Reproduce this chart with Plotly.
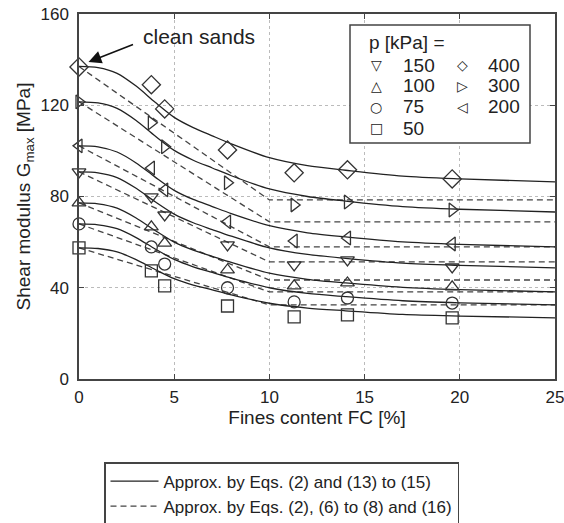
import plotly.graph_objects as go

# ---------------- data ----------------
symbols = {"400": "diamond-open", "300": "triangle-right-open", "200": "triangle-left-open",
           "150": "triangle-down-open", "100": "triangle-up-open", "75": "circle-open",
           "50": "square-open"}

fc_meas = [0, 3.8, 4.5, 7.8, 11.3, 14.1, 19.6]
g_meas_400 = [136.8, 129.0, 118.4, 100.4, 90.4, 91.7, 87.7]
g_meas_300 = [121.5, 112.3, 101.8, 86.0, 76.3, 77.6, 74.1]
g_meas_200 = [102.2, 92.5, 82.9, 68.9, 60.5, 61.8, 59.2]
g_meas_150 = [90.8, 79.8, 71.9, 58.8, 50.0, 52.2, 49.1]
g_meas_100 = [77.2, 66.7, 59.6, 47.8, 40.8, 42.1, 40.4]
g_meas_75 = [68.0, 57.9, 50.4, 40.0, 33.8, 35.5, 33.3]
g_meas_50 = [57.5, 47.4, 40.8, 32.0, 27.2, 28.1, 26.8]

fc_solid = [0, 1, 2, 3, 4, 5, 6, 7, 8, 10, 12, 14, 17, 20, 25]
g_solid_400 = [137.0, 136.5, 134.0, 128.4, 121.3, 114.7, 110.2, 106.6, 103.1, 97.0, 93.5, 91.5, 88.9, 87.7, 86.4]
g_solid_300 = [121.5, 121.0, 118.6, 113.3, 106.5, 100.2, 95.9, 92.5, 89.1, 83.3, 80.0, 78.0, 75.6, 74.4, 73.2]
g_solid_200 = [102.2, 101.8, 99.5, 94.7, 88.5, 82.7, 78.7, 75.6, 72.5, 67.2, 64.1, 62.3, 60.1, 59.0, 57.9]
g_solid_150 = [90.8, 90.4, 88.3, 83.6, 77.7, 72.3, 68.5, 65.5, 62.6, 57.5, 54.6, 52.9, 50.8, 49.8, 48.7]
g_solid_100 = [77.2, 76.8, 74.9, 70.6, 65.1, 60.0, 56.5, 53.8, 51.1, 46.4, 43.7, 42.1, 40.2, 39.2, 38.2]
g_solid_75 = [68.0, 67.6, 65.9, 62.0, 57.0, 52.4, 49.2, 46.7, 44.2, 40.0, 37.5, 36.1, 34.3, 33.4, 32.5]
g_solid_50 = [57.5, 57.2, 55.7, 52.3, 48.0, 44.0, 41.2, 39.1, 36.9, 33.2, 31.1, 29.9, 28.3, 27.6, 26.8]

fc_dash = [0, 10, 25]
g_dash_400 = [137.0, 78.5, 78.5]
g_dash_300 = [121.5, 68.9, 68.9]
g_dash_200 = [102.2, 57.9, 57.9]
g_dash_150 = [90.8, 51.3, 51.3]
g_dash_100 = [77.2, 43.4, 43.4]
g_dash_75 = [68.0, 38.2, 38.2]
g_dash_50 = [57.5, 32.5, 32.5]

x_ticks = [0, 5, 10, 15, 20, 25]
y_ticks = [0, 40, 80, 120, 160]

meas = {"400": g_meas_400, "300": g_meas_300, "200": g_meas_200, "150": g_meas_150,
        "100": g_meas_100, "75": g_meas_75, "50": g_meas_50}
solid = {"400": g_solid_400, "300": g_solid_300, "200": g_solid_200, "150": g_solid_150,
         "100": g_solid_100, "75": g_solid_75, "50": g_solid_50}
dash = {"400": g_dash_400, "300": g_dash_300, "200": g_dash_200, "150": g_dash_150,
        "100": g_dash_100, "75": g_dash_75, "50": g_dash_50}

order = ["400", "300", "200", "150", "100", "75", "50"]
LBL_SOLID = "Approx. by Eqs. (2) and (13) to (15)"
LBL_DASH = "Approx. by Eqs. (2), (6) to (8) and (16)"
FONT = "Liberation Sans, Arial, Helvetica, sans-serif"
INK = "#222222"

fig = go.Figure()
for i, p in enumerate(order):
    fig.add_trace(go.Scatter(x=fc_dash, y=dash[p], mode="lines",
                             line=dict(color="#444444", width=1.3, dash="6px,4px"),
                             name=LBL_DASH, legendgroup="d", showlegend=(i == 0),
                             legendrank=2))
for i, p in enumerate(order):
    fig.add_trace(go.Scatter(x=fc_solid, y=solid[p], mode="lines",
                             line=dict(color=INK, width=1.3, shape="spline", smoothing=0.8),
                             name=LBL_SOLID, legendgroup="s", showlegend=(i == 0),
                             legendrank=1))
for p in order:
    fig.add_trace(go.Scatter(x=fc_meas, y=meas[p], mode="markers",
                             marker=dict(symbol=symbols[p], size=12 if p != "400" else 14,
                                         color="#333333", line=dict(width=1.3, color="#333333")),
                             cliponaxis=False, showlegend=False, name=p + " kPa"))

axis_common = dict(showline=True, linecolor="#444444", linewidth=1.5, mirror="ticks",
                   ticks="inside", ticklen=5, tickcolor="#444444", showgrid=True,
                   gridcolor="#bbbbbb", griddash="dot", gridwidth=1, zeroline=False,
                   automargin=False, ticklabeloverflow="allow",
                   tickfont=dict(family=FONT, size=17, color=INK))

fig.update_xaxes(range=[0, 25], tickvals=x_ticks, ticklabelstandoff=2,
                 title=dict(text="Fines content FC [%]", standoff=4,
                            font=dict(family=FONT, size=19, color=INK)),
                 **axis_common)
fig.update_yaxes(range=[0, 160], tickvals=y_ticks, ticklabelstandoff=5,
                 title=dict(text="Shear modulus G<sub>max</sub> [MPa]", standoff=5,
                            font=dict(family=FONT, size=19, color=INK)),
                 **axis_common)

# inner marker legend box
L, R, T, B = 79, 555, 14, 379
def px(xp):
    return (xp - L) / (R - L)
def py(yp):
    return (B - yp) / (B - T)

shapes = [dict(type="rect", xref="paper", yref="paper", x0=px(350), x1=px(530),
               y0=py(143), y1=py(25), line=dict(color="#444444", width=1.5),
               fillcolor="white", layer="above")]
ann = [dict(text="p [kPa] =", xref="paper", yref="paper", x=px(367), y=py(42),
            xanchor="left", yanchor="middle", showarrow=False,
            font=dict(family=FONT, size=19, color=INK))]
glyph = {"150": "\u25BD", "100": "\u25B3", "75": "\u25CB", "50": "\u25A1",
         "400": "\u25C7", "300": "\u25B7", "200": "\u25C1"}
rows = [65, 86, 107, 128]
col1 = ["150", "100", "75", "50"]
col2 = ["400", "300", "200"]
for r, p in enumerate(col1):
    ann.append(dict(text=glyph[p], xref="paper", yref="paper", x=px(376), y=py(rows[r]),
                    xanchor="center", yanchor="middle", showarrow=False,
                    font=dict(family="DejaVu Sans", size=14, color=INK)))
    ann.append(dict(text=p, xref="paper", yref="paper", x=px(401), y=py(rows[r]),
                    xanchor="left", yanchor="middle", showarrow=False,
                    font=dict(family=FONT, size=19, color=INK)))
for r, p in enumerate(col2):
    ann.append(dict(text=glyph[p], xref="paper", yref="paper", x=px(462), y=py(rows[r]),
                    xanchor="center", yanchor="middle", showarrow=False,
                    font=dict(family="DejaVu Sans", size=14, color=INK)))
    ann.append(dict(text=p, xref="paper", yref="paper", x=px(486), y=py(rows[r]),
                    xanchor="left", yanchor="middle", showarrow=False,
                    font=dict(family=FONT, size=19, color=INK)))

# clean sands annotation
ann.append(dict(text="clean sands", xref="paper", yref="paper", x=px(141), y=py(37),
                xanchor="left", yanchor="middle", showarrow=False,
                font=dict(family=FONT, size=21, color=INK)))
ann.append(dict(text="", x=0.5, y=139, xref="x", yref="y", ax=46, ay=-18,
                showarrow=True, arrowhead=2, arrowsize=1.6, arrowwidth=1.6,
                arrowcolor="#111111"))

fig.update_layout(
    width=564, height=523,
    margin=dict(l=L, r=564 - R, t=T, b=523 - B, autoexpand=False),
    paper_bgcolor="white", plot_bgcolor="white",
    shapes=shapes, annotations=ann,
    legend=dict(x=px(104), y=py(462), xanchor="left", yanchor="top",
                bordercolor="#444444", borderwidth=1.5, bgcolor="white",
                font=dict(family=FONT, size=17, color=INK), tracegroupgap=0,
                itemwidth=48),
    font=dict(family=FONT, color=INK),
)

fig.write_html("out.html")
